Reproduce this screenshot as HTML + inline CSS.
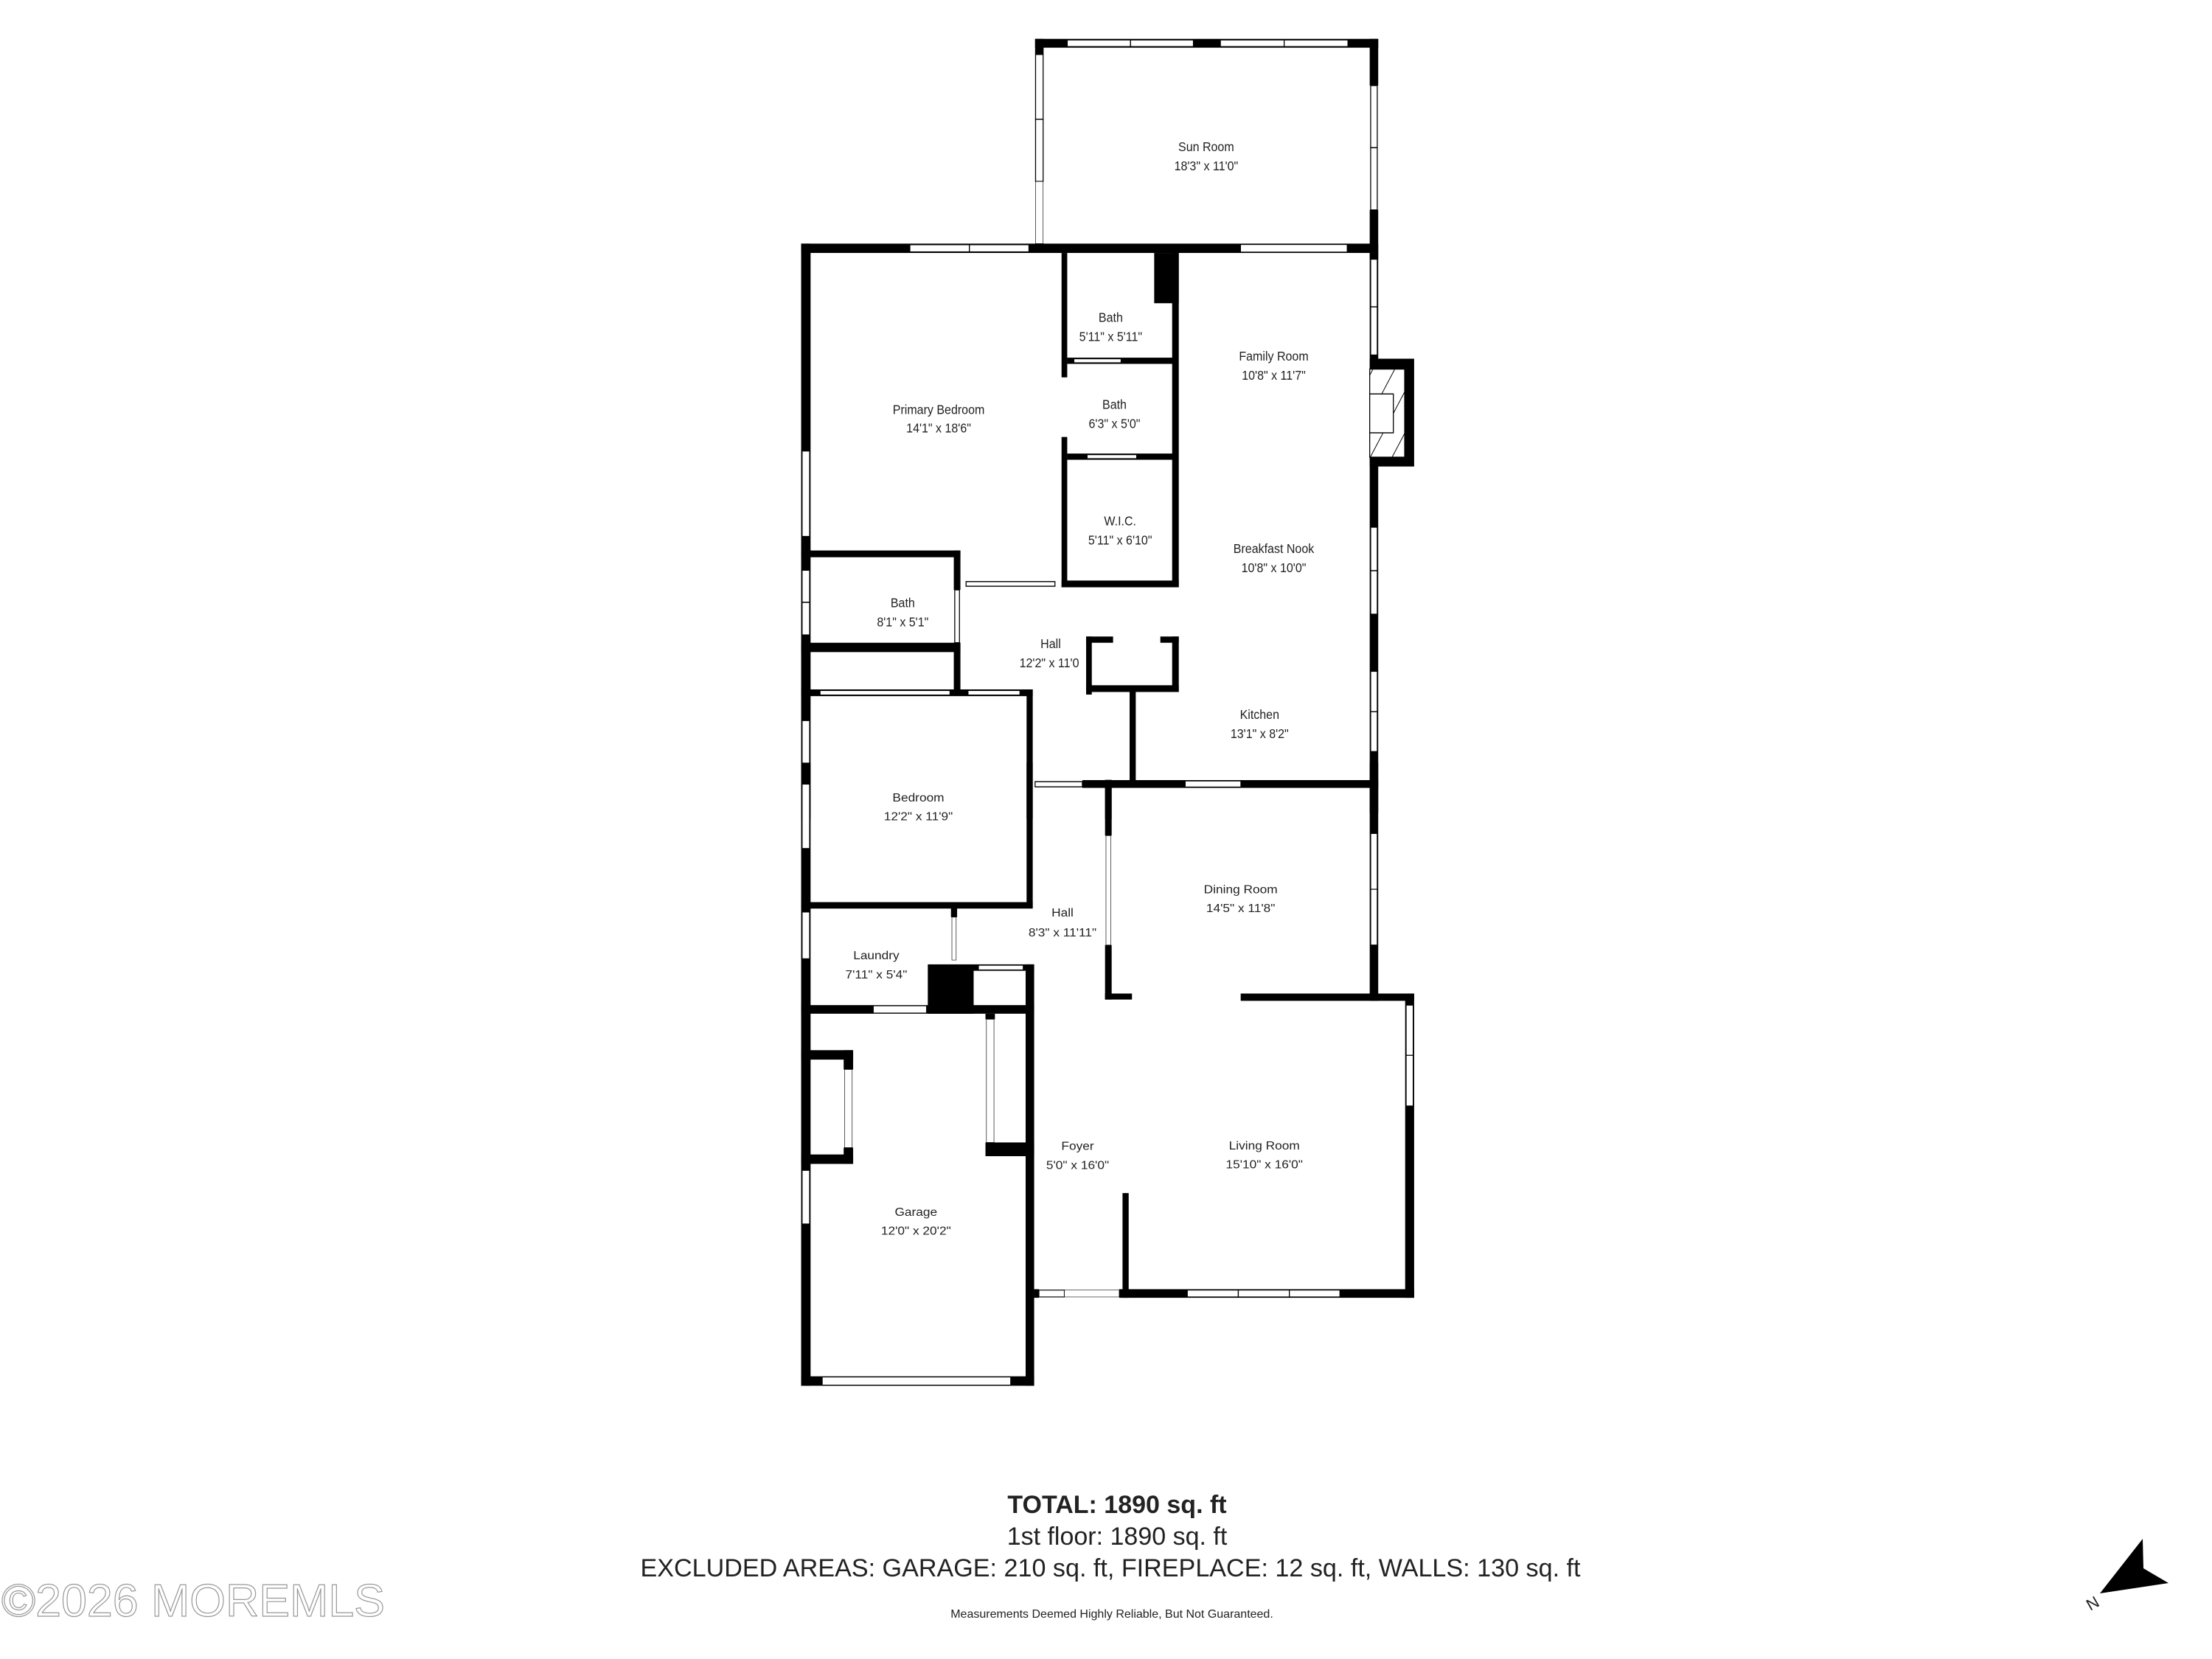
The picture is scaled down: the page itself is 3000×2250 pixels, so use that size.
<!DOCTYPE html>
<html><head><meta charset="utf-8"><style>
html,body{margin:0;padding:0;background:#fff;}
svg{display:block;}
text{font-family:"Liberation Sans",sans-serif;fill:#222;}
</style></head><body>
<svg width="3000" height="2250" viewBox="0 0 3000 2250" xmlns="http://www.w3.org/2000/svg">
<rect width="3000" height="2250" fill="#fff"/>
<g transform="translate(1000,0) scale(0.641,0.703)">
 <g fill="#000">
  <rect x="630" y="75" width="726" height="17"/>
  <rect x="630" y="75" width="18" height="30"/>
  <rect x="1338" y="75" width="18" height="90"/>
  <rect x="1338" y="405" width="18" height="95"/>
  <rect x="135" y="470" width="1221" height="18"/>
  <rect x="135" y="470" width="20" height="1110"/>
  <rect x="1338" y="488" width="18" height="1080"/>
  <rect x="1338" y="692" width="94" height="208"/>
  <rect x="686" y="488" width="12" height="240"/>
  <rect x="686" y="843" width="12" height="290"/>
  <rect x="698" y="690" width="224" height="12"/>
  <rect x="920" y="488" width="14" height="645"/>
  <rect x="882" y="488" width="52" height="97"/>
  <rect x="698" y="875" width="224" height="12"/>
  <rect x="686" y="1120" width="248" height="13"/>
  <rect x="135" y="1062" width="337" height="13"/>
  <rect x="458" y="1062" width="14" height="76"/>
  <rect x="458" y="1240" width="14" height="100"/>
  <rect x="135" y="1240" width="337" height="18"/>
  <rect x="738" y="1228" width="12" height="112"/>
  <rect x="738" y="1228" width="57" height="12"/>
  <rect x="895" y="1228" width="39" height="12"/>
  <rect x="920" y="1228" width="14" height="107"/>
  <rect x="738" y="1322" width="196" height="13"/>
  <rect x="830" y="1335" width="13" height="180"/>
  <rect x="135" y="1330" width="490" height="13"/>
  <rect x="612" y="1330" width="13" height="250"/>
  <rect x="730" y="1505" width="626" height="15"/>
  <rect x="778" y="1520" width="14" height="60"/>
 </g>
 <g fill="#fff" stroke="#000" stroke-width="2">
  <rect x="698" y="77" width="134" height="13"/><rect x="832" y="77" width="133" height="13"/>
  <rect x="1022" y="77" width="135" height="13"/><rect x="1157" y="77" width="135" height="13"/>
  <rect x="631" y="105" width="16" height="125"/><rect x="631" y="230" width="16" height="120"/>
  <rect x="1340" y="165" width="14" height="120"/><rect x="1340" y="285" width="14" height="120"/>
  <rect x="365" y="472" width="126" height="14"/><rect x="491" y="472" width="126" height="14"/>
  <rect x="137" y="870" width="16" height="165"/>
  <rect x="137" y="1100" width="16" height="62"/><rect x="137" y="1162" width="16" height="63"/>
  <rect x="137" y="1390" width="16" height="120"/>
  <rect x="1340" y="500" width="14" height="92"/><rect x="1340" y="592" width="14" height="93"/>
  <rect x="1340" y="1017" width="14" height="84"/><rect x="1340" y="1101" width="14" height="84"/>
  <rect x="1340" y="1295" width="14" height="78"/><rect x="1340" y="1373" width="14" height="77"/>
  <rect x="484" y="1122" width="188" height="9"/>
  <rect x="175" y="1332" width="275" height="9"/><rect x="488" y="1332" width="110" height="9"/>
  <rect x="712" y="692" width="100" height="8"/>
  <rect x="740" y="877" width="105" height="8"/>
  <rect x="460" y="1138" width="10" height="102"/>
  <rect x="630" y="1508" width="100" height="10"/>
 </g>
 <g fill="#fff" stroke="#000" stroke-width="1">
  <rect x="1065" y="472" width="225" height="14"/>
  <rect x="948" y="1507" width="117" height="11"/>
  <rect x="631" y="350" width="16" height="120"/>
 </g>
 <defs><pattern id="h" width="40" height="40" patternUnits="userSpaceOnUse" patternTransform="rotate(30)"><rect width="40" height="40" fill="#fff"/><line x1="0" y1="0" x2="0" y2="40" stroke="#000" stroke-width="3"/></pattern></defs>
 <rect x="1338" y="712" width="74" height="170" fill="url(#h)" stroke="#000" stroke-width="2"/>
 <rect x="1338" y="760" width="50" height="75" fill="#fff" stroke="#000" stroke-width="2"/>
 <g font-size="25" text-anchor="middle" dominant-baseline="middle">
  <text x="992" y="285">Sun Room</text><text x="992" y="322">18'3" x 11'0"</text>
  <text x="790" y="614">Bath</text><text x="790" y="651">5'11" x 5'11"</text>
  <text x="1135" y="689">Family Room</text><text x="1135" y="726">10'8" x 11'7"</text>
  <text x="426" y="792">Primary Bedroom</text><text x="426" y="828">14'1" x 18'6"</text>
  <text x="798" y="782">Bath</text><text x="798" y="819">6'3" x 5'0"</text>
  <text x="810" y="1007">W.I.C.</text><text x="810" y="1044">5'11" x 6'10"</text>
  <text x="1135" y="1060">Breakfast Nook</text><text x="1135" y="1097">10'8" x 10'0"</text>
  <text x="350" y="1165">Bath</text><text x="350" y="1202">8'1" x 5'1"</text>
  <text x="663" y="1244">Hall</text><text x="660" y="1281">12'2" x 11'0</text>
  <text x="1105" y="1380">Kitchen</text><text x="1105" y="1417">13'1" x 8'2"</text>
 </g>
</g>
<g transform="translate(1000,1046) scale(0.641,0.582)">
 <g fill="#000">
  <rect x="135" y="-20" width="20" height="1452"/>
  <rect x="612" y="-20" width="13" height="338"/>
  <rect x="135" y="305" width="490" height="15"/>
  <rect x="778" y="20" width="14" height="130"/>
  <rect x="778" y="405" width="14" height="127"/>
  <rect x="778" y="518" width="57" height="14"/>
  <rect x="1338" y="-20" width="18" height="555"/>
  <rect x="1065" y="518" width="367" height="17"/>
  <rect x="1413" y="518" width="19" height="709"/>
  <rect x="808" y="1207" width="624" height="20"/>
  <rect x="815" y="983" width="13" height="244"/>
  <rect x="610" y="450" width="18" height="982"/>
  <rect x="628" y="1207" width="10" height="20"/>
  <rect x="452" y="318" width="13" height="22"/>
  <rect x="403" y="450" width="97" height="115"/>
  <rect x="500" y="450" width="128" height="15"/>
  <rect x="135" y="545" width="493" height="20"/>
  <rect x="525" y="565" width="20" height="13"/>
  <rect x="525" y="865" width="103" height="32"/>
  <rect x="135" y="650" width="110" height="22"/>
  <rect x="225" y="650" width="20" height="45"/>
  <rect x="225" y="877" width="20" height="38"/>
  <rect x="135" y="893" width="110" height="22"/>
  <rect x="135" y="1410" width="493" height="22"/>
 </g>
 <g fill="#fff" stroke="#000" stroke-width="2">
  <rect x="137" y="30" width="16" height="150"/>
  <rect x="137" y="328" width="16" height="109"/>
  <rect x="137" y="930" width="16" height="125"/>
  <rect x="1340" y="145" width="14" height="130"/><rect x="1340" y="275" width="14" height="130"/>
  <rect x="1415" y="545" width="15" height="117"/><rect x="1415" y="662" width="15" height="118"/>
  <rect x="952" y="1209" width="108" height="16"/><rect x="1060" y="1209" width="108" height="16"/><rect x="1168" y="1209" width="107" height="16"/>
  <rect x="638" y="1209" width="54" height="16"/>
  <rect x="510" y="452" width="95" height="11"/>
 </g>
 <g fill="#fff" stroke="#000" stroke-width="1">
  <rect x="780" y="150" width="10" height="255"/>
  <rect x="454" y="340" width="9" height="100"/>
  <rect x="288" y="547" width="112" height="16"/>
  <rect x="527" y="578" width="16" height="287"/>
  <rect x="227" y="695" width="16" height="182"/>
  <rect x="692" y="1209" width="116" height="16"/>
  <rect x="180" y="1412" width="398" height="18"/>
 </g>
 <g font-size="27" text-anchor="middle" dominant-baseline="middle">
  <text x="383" y="63">Bedroom</text><text x="383" y="107">12'2" x 11'9"</text>
  <text x="1065" y="277">Dining Room</text><text x="1065" y="321">14'5" x 11'8"</text>
  <text x="688" y="331">Hall</text><text x="688" y="378">8'3" x 11'11"</text>
  <text x="294" y="431">Laundry</text><text x="294" y="476">7'11" x 5'4"</text>
  <text x="720" y="875">Foyer</text><text x="720" y="920">5'0" x 16'0"</text>
  <text x="1115" y="874">Living Room</text><text x="1115" y="918">15'10" x 16'0"</text>
  <text x="378" y="1029">Garage</text><text x="378" y="1073">12'0" x 20'2"</text>
 </g>
</g>
<g text-anchor="middle">
 <text x="1515" y="2052" font-size="34" font-weight="bold" fill="#000">TOTAL: 1890 sq. ft</text>
 <text x="1515" y="2095" font-size="34" fill="#000">1st floor: 1890 sq. ft</text>
 <text x="1506" y="2138" font-size="34" fill="#000" textLength="1275" lengthAdjust="spacingAndGlyphs">EXCLUDED AREAS: GARAGE: 210 sq. ft, FIREPLACE: 12 sq. ft, WALLS: 130 sq. ft</text>
 <text x="1508" y="2194" font-size="16" fill="#000">Measurements Deemed Highly Reliable, But Not Guaranteed.</text>
</g>
<text x="2" y="2192" font-size="62" textLength="520" lengthAdjust="spacingAndGlyphs" style="fill:#fff;stroke:#999;stroke-width:1.2">©2026 MOREMLS</text>
<polygon points="2906,2087 2907,2127 2941,2147 2848,2161" fill="#000"/>
<text x="2835" y="2185" font-size="22" transform="rotate(-30 2835 2185)" fill="#000">N</text>
</svg>
</body></html>
